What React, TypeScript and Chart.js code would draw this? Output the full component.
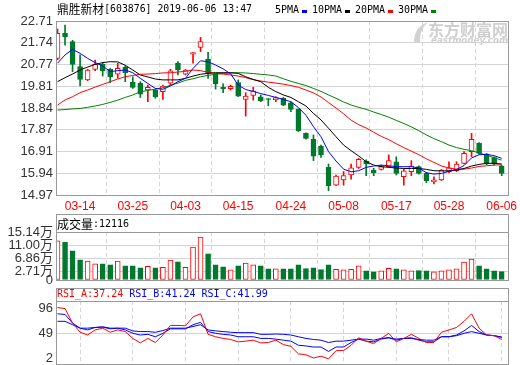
import React, { useEffect, useRef } from "react";
import { Chart, registerables } from "chart.js";

Chart.register(...registerables);

// ---------------- data ----------------
const dates = [
  "03-11", "03-12", "03-13", "03-14", "03-15", "03-18", "03-19", "03-20", "03-21", "03-22",
  "03-25", "03-26", "03-27", "03-28", "03-29", "04-01", "04-02", "04-03", "04-04", "04-08",
  "04-09", "04-10", "04-11", "04-12", "04-15", "04-16", "04-17", "04-18", "04-19", "04-22",
  "04-23", "04-24", "04-25", "04-26", "04-29", "04-30", "05-06", "05-07", "05-08", "05-09",
  "05-10", "05-13", "05-14", "05-15", "05-16", "05-17", "05-20", "05-21", "05-22", "05-23",
  "05-24", "05-27", "05-28", "05-29", "05-30", "05-31", "06-03", "06-04", "06-05", "06-06",
];
const tickDates = ["03-14", "03-25", "04-03", "04-15", "04-24", "05-08", "05-17", "05-28", "06-06"];

const openPrice = [
  21.05, 22.16, 21.79, 20.68, 20.09, 20.56, 20.78, 20.56, 20.34, 20.65,
  19.98, 19.94, 19.64, 19.64, 19.57, 19.94, 20.83, 20.35, 21.23, 21.54,
  21.02, 20.35, 19.76, 19.70, 19.97, 19.22, 19.40, 19.34, 19.24, 19.20,
  19.27, 19.07, 18.79, 17.71, 17.45, 17.15, 16.20, 15.41, 15.64, 15.86,
  16.20, 16.48, 16.08, 16.11, 16.23, 16.45, 15.78, 16.01, 16.23, 15.93,
  15.56, 15.64, 16.01, 16.05, 16.38, 16.90, 17.27, 16.79, 16.64, 16.26,
];
const highPrice = [
  22.35, 22.53, 21.85, 21.20, 20.56, 20.97, 20.86, 20.60, 20.83, 20.71,
  20.23, 20.01, 19.86, 19.67, 19.86, 20.56, 20.90, 20.56, 21.30, 21.98,
  21.32, 20.38, 19.91, 19.86, 20.09, 19.52, 19.76, 19.42, 19.25, 19.34,
  19.31, 19.12, 18.80, 17.74, 17.64, 17.19, 16.35, 15.86, 16.01, 16.35,
  16.60, 16.53, 16.16, 16.30, 16.75, 16.67, 16.11, 16.50, 16.27, 15.98,
  15.78, 16.11, 16.45, 16.45, 16.90, 17.71, 17.30, 16.82, 16.67, 16.30,
];
const lowPrice = [
  20.98, 21.64, 20.46, 19.82, 20.05, 20.50, 20.26, 19.97, 20.16, 20.01,
  19.71, 19.31, 19.12, 19.27, 19.22, 19.86, 20.31, 20.31, 20.83, 21.35,
  20.16, 19.68, 19.52, 19.64, 19.35, 18.48, 19.19, 19.12, 18.94, 19.12,
  18.94, 18.68, 17.79, 17.45, 16.50, 16.64, 15.16, 15.38, 15.41, 15.67,
  16.15, 15.83, 15.83, 16.08, 16.20, 15.86, 15.41, 15.83, 15.90, 15.52,
  15.46, 15.61, 15.96, 16.01, 16.35, 16.67, 16.79, 16.32, 16.30, 15.83,
];
const closePrice = [
  22.16, 22.00, 20.78, 20.11, 20.53, 20.78, 20.49, 20.23, 20.60, 20.41,
  19.76, 19.45, 19.76, 19.34, 19.82, 20.49, 20.53, 20.53, 21.30, 21.79,
  20.38, 19.91, 19.70, 19.80, 19.37, 19.37, 19.59, 19.15, 19.22, 19.30,
  18.97, 18.78, 17.83, 17.49, 16.70, 16.75, 15.38, 15.81, 15.83, 16.18,
  16.56, 16.35, 15.96, 16.23, 16.50, 15.93, 16.04, 16.26, 15.93, 15.61,
  15.64, 16.08, 16.18, 16.35, 16.82, 17.45, 16.82, 16.35, 16.35, 15.93,
];

const ma5 = [
  20.83, 21.20, 21.45, 21.27, 21.05, 20.86, 20.71, 20.46, 20.50, 20.53,
  20.41, 20.16, 19.93, 19.71, 19.67, 19.82, 20.01, 20.16, 20.60, 20.94,
  20.90, 20.75, 20.58, 20.36, 19.86, 19.66, 19.58, 19.48, 19.40, 19.31,
  19.22, 19.12, 18.86, 18.52, 18.01, 17.56, 16.90, 16.48, 16.12, 16.00,
  16.05, 16.20, 16.26, 16.30, 16.27, 16.23, 16.23, 16.23, 16.17, 15.96,
  15.90, 15.93, 16.02, 16.11, 16.28, 16.62, 16.76, 16.78, 16.72, 16.60,
];
const ma10 = [
  20.01, 20.19, 20.35, 20.53, 20.66, 20.78, 20.86, 20.90, 20.89, 20.74,
  20.53, 20.31, 20.22, 20.13, 20.09, 20.09, 20.09, 20.16, 20.26, 20.34,
  20.38, 20.41, 20.41, 20.41, 20.38, 20.23, 20.11, 20.01, 19.76, 19.57,
  19.42, 19.31, 19.12, 18.93, 18.60, 18.31, 17.94, 17.56, 17.19, 16.94,
  16.71, 16.45, 16.30, 16.23, 16.20, 16.17, 16.15, 16.15, 16.15, 16.11,
  16.05, 16.04, 16.05, 16.08, 16.15, 16.26, 16.33, 16.38, 16.38, 16.35,
];
const ma20 = [
  18.97, 19.20, 19.34, 19.52, 19.64, 19.77, 19.89, 20.01, 20.13, 20.23,
  20.29, 20.34, 20.35, 20.37, 20.40, 20.41, 20.44, 20.47, 20.53, 20.50,
  20.43, 20.38, 20.35, 20.31, 20.26, 20.19, 20.10, 20.04, 19.99, 19.95,
  19.90, 19.84, 19.76, 19.64, 19.51, 19.33, 19.08, 18.84, 18.58, 18.30,
  18.10, 17.95, 17.76, 17.58, 17.43, 17.25, 17.08, 16.92, 16.76, 16.58,
  16.42, 16.26, 16.17, 16.12, 16.12, 16.17, 16.24, 16.27, 16.30, 16.31,
];
const ma30 = [
  18.75, 18.77, 18.80, 18.82, 18.87, 18.93, 19.00, 19.09, 19.19, 19.31,
  19.42, 19.56, 19.62, 19.68, 19.74, 19.85, 19.95, 20.07, 20.14, 20.23,
  20.29, 20.34, 20.38, 20.40, 20.41, 20.40, 20.37, 20.34, 20.31, 20.26,
  20.14, 20.03, 19.93, 19.84, 19.71, 19.58, 19.42, 19.27, 19.11, 18.97,
  18.87, 18.78, 18.66, 18.55, 18.43, 18.29, 18.15, 18.00, 17.83, 17.64,
  17.48, 17.34, 17.19, 17.08, 17.00, 16.94, 16.84, 16.74, 16.63, 16.52,
];

// volume in 万
const volumeWan = [
  12.39, 11.86, 9.21, 6.35, 5.93, 5.08, 5.08, 4.77, 5.93, 4.45,
  4.45, 3.81, 4.34, 3.81, 4.02, 6.25, 5.72, 4.02, 10.38, 13.56,
  8.26, 4.77, 4.13, 3.18, 4.45, 5.30, 4.77, 4.45, 3.49, 3.49,
  3.49, 3.49, 4.77, 3.60, 3.81, 3.28, 4.77, 3.39, 3.18, 3.39,
  4.45, 2.86, 2.54, 2.86, 3.71, 3.49, 3.18, 2.86, 2.97, 2.86,
  2.54, 2.86, 3.18, 3.49, 5.68, 6.62, 4.47, 3.52, 2.93, 2.62,
];

const rsiA = [
  98, 96, 68.5, 51.0, 45.8, 55.5, 58.8, 51.0, 55.5, 52.3,
  39.3, 30.8, 39.3, 31.5, 45.8, 64.0, 64.0, 63.3, 80.2, 86.1,
  47.1, 42.5, 39.3, 37.3, 32.8, 34.1, 36.0, 30.8, 31.5, 36.0,
  27.6, 24.3, 10.0, 8.1, 2.2, 5.5, 0.5, 15.9, 16.5, 26.3,
  40.6, 34.1, 29.5, 39.3, 49.0, 32.8, 39.3, 47.1, 39.3, 31.5,
  31.5, 51.0, 55.5, 60.1, 71.8, 86.1, 58.8, 45.8, 44.5, 37.24,
];
const rsiB = [
  86.1, 84.8, 68.5, 58.8, 55.5, 60.1, 60.7, 57.5, 58.8, 55.5,
  49.0, 45.8, 47.1, 42.5, 49.0, 57.5, 57.5, 57.5, 65.3, 69.8,
  52.3, 49.0, 47.1, 45.8, 42.5, 42.5, 42.5, 39.3, 39.3, 38.0,
  36.0, 34.1, 26.3, 25.0, 23.0, 23.0, 14.6, 23.0, 23.0, 31.5,
  38.0, 34.1, 32.8, 38.0, 40.6, 36.0, 39.3, 40.6, 36.0, 32.8,
  32.8, 42.5, 42.5, 45.8, 53.6, 64.0, 52.3, 45.8, 44.5, 41.24,
];
const rsiC = [
  71.8, 71.8, 65.3, 58.8, 58.8, 60.1, 61.4, 58.8, 58.8, 58.8,
  53.6, 52.3, 52.3, 51.0, 54.2, 58.8, 58.8, 58.8, 62.0, 65.3,
  55.5, 53.6, 52.3, 51.0, 50.3, 50.3, 50.3, 47.1, 47.1, 47.7,
  47.1, 45.8, 42.5, 39.3, 37.3, 36.0, 31.5, 34.1, 34.1, 36.0,
  38.0, 38.0, 36.0, 39.3, 40.6, 38.0, 39.3, 39.3, 37.3, 36.0,
  36.0, 42.5, 42.5, 44.5, 49.0, 52.3, 49.0, 45.8, 44.5, 41.99,
];

const priceTicks = [22.71, 21.74, 20.77, 19.81, 18.84, 17.87, 16.91, 15.94, 14.97];
const volumeTicks = [15.14, 11.0, 6.86, 2.71, 0];
const rsiTicks = [96, 49, 2];

const titleText = "鼎胜新材[603876] 2019-06-06 13:47";
const volumeTitle = "成交量:12116";
const maNames = ["5PMA", "10PMA", "20PMA", "30PMA"];
const rsiNames = ["RSI_A:37.24", "RSI_B:41.24", "RSI_C:41.99"];
const watermarkCn = "东方财富网";
const watermarkEn = "eastmoney.com";

// ---------------- styles / layout ----------------
const RED = "#ff0000";
const GREEN = "#00782d";
const BLUE = "#0000ff";
const BLACK = "#000000";
const MA_GREEN = "#008000";
const FRAME = "#999999";
const GRID = "#d4d4d4";
const LABEL = "#333333";
const X_MIN = -0.2;
const X_MAX = 59.84;
const SANS = "'Liberation Sans', 'Noto Sans CJK SC', sans-serif";
const MONO = "'DejaVu Sans Mono', monospace";
const CJK = "'Noto Sans CJK SC', sans-serif";
const TITLE_X = 57;
const TITLE_W = 195;
const LEGEND_X = [275, 312, 355, 398];

const maColors = [BLUE, BLACK, RED, MA_GREEN];
const rsiColors = [RED, BLUE, BLUE];

const isUp = closePrice.map((c, i) => c >= openPrice[i]);
const tickIndex = tickDates.map((d) => dates.indexOf(d));

const CJK_RE = /[\u3000-\u9fff\uff00-\uffef]/;
function segments(text: string) {
  const out: { s: string; c: boolean }[] = [];
  let i = 0;
  while (i < text.length) {
    const c = CJK_RE.test(text[i]);
    let j = i;
    while (j < text.length && CJK_RE.test(text[j]) === c) j++;
    out.push({ s: text.slice(i, j), c });
    i = j;
  }
  return out;
}
function drawMixed(ctx: CanvasRenderingContext2D, text: string, x: number, y: number, color: string, fitWidth?: number) {
  ctx.save();
  ctx.fillStyle = color;
  ctx.textBaseline = "middle";
  ctx.textAlign = "left";
  const segs = segments(text);
  let total = 0;
  for (const g of segs) {
    ctx.font = g.c ? `12px ${CJK}` : `10px ${MONO}`;
    total += ctx.measureText(g.s).width;
  }
  const k = fitWidth ? fitWidth / total : 1;
  ctx.translate(x, y);
  ctx.scale(k, 1);
  let cx = 0;
  for (const g of segs) {
    ctx.font = g.c ? `12px ${CJK}` : `10px ${MONO}`;
    ctx.fillText(g.s, cx, 0);
    cx += ctx.measureText(g.s).width;
  }
  ctx.restore();
}

function strokeFrame(ctx: CanvasRenderingContext2D, l: number, t: number, r: number, b: number) {
  ctx.save();
  ctx.strokeStyle = FRAME;
  ctx.lineWidth = 1;
  const L = Math.round(l), T = Math.round(t), R = Math.round(r), B = Math.round(b);
  ctx.strokeRect(L + 0.5, T + 0.5, R - L, B - T);
  ctx.restore();
}
function hLine(ctx: CanvasRenderingContext2D, l: number, r: number, y: number) {
  ctx.save();
  ctx.strokeStyle = FRAME;
  ctx.lineWidth = 1;
  ctx.beginPath();
  ctx.moveTo(Math.round(l), Math.round(y) + 0.5);
  ctx.lineTo(Math.round(r) + 1, Math.round(y) + 0.5);
  ctx.stroke();
  ctx.restore();
}

function xScale(showLabels: boolean) {
  return {
    type: "linear",
    min: X_MIN,
    max: X_MAX,
    offset: false,
    afterBuildTicks: (s: any) => {
      s.ticks = tickIndex.map((v) => ({ value: v }));
    },
    ticks: {
      display: showLabels,
      autoSkip: false,
      maxRotation: 0,
      minRotation: 0,
      color: RED,
      font: { family: SANS, size: 12 },
      padding: 4,
      callback: (v: any) => dates[v] ?? "",
    },
    grid: { color: GRID, lineWidth: 1, drawTicks: false },
    border: { display: false, dash: [4, 3] },
    afterFit: (s: any) => {
      s.height = showLabels ? 17 : 0;
      s.paddingLeft = 0;
      s.paddingRight = 0;
    },
  };
}

function yScale(min: number, max: number, ticks: number[], fmt: (v: number) => string, gridColor: any) {
  return {
    type: "linear",
    min,
    max,
    afterBuildTicks: (s: any) => {
      s.ticks = ticks.map((v) => ({ value: v }));
    },
    ticks: {
      autoSkip: false,
      color: LABEL,
      font: { family: SANS, size: 13 },
      padding: 3,
      callback: (v: any) => fmt(Number(v)),
    },
    grid: { color: gridColor, drawTicks: false, lineWidth: 1 },
    border: { display: false },
    afterFit: (s: any) => {
      s.width = 48;
      s.paddingTop = 0;
      s.paddingBottom = 0;
    },
  };
}

const common = {
  animation: false,
  responsive: false,
  maintainAspectRatio: false,
  events: [] as any[],
  plugins: { legend: { display: false }, tooltip: { enabled: false } },
};

function priceConfig(): any {
  const lines = [ma5, ma10, ma20, ma30].map((arr, k) => ({
    type: "line",
    data: arr.map((v, i) => ({ x: i, y: v })),
    borderColor: maColors[k],
    borderWidth: 1,
    pointRadius: 0,
    tension: 0,
    order: 0,
  }));
  const body = {
    type: "bar",
    data: closePrice.map((c, i) => ({ x: i, y: [openPrice[i], c] })),
    backgroundColor: isUp.map((u) => (u ? "#ffffff" : GREEN)),
    borderColor: isUp.map((u) => (u ? RED : GREEN)),
    borderWidth: 1,
    borderSkipped: false,
    barThickness: 5,
    minBarLength: 1,
    grouped: false,
    order: 1,
  };
  const wick = {
    type: "bar",
    data: highPrice.map((h, i) => ({ x: i, y: [lowPrice[i], h] })),
    backgroundColor: isUp.map((u) => (u ? RED : GREEN)),
    borderWidth: 0,
    barThickness: 1,
    grouped: false,
    order: 2,
  };
  const decor = {
    id: "priceDecor",
    beforeDatasetsDraw(chart: any) {
      const ctx: CanvasRenderingContext2D = chart.ctx;
      ctx.save();
      ctx.textAlign = "left";
      ctx.fillStyle = "#d2d2d2";
      ctx.beginPath();
      ctx.moveTo(414, 42);
      ctx.quadraticCurveTo(414, 27, 428, 22);
      ctx.quadraticCurveTo(419, 30, 420, 42);
      ctx.closePath();
      ctx.fill();
      ctx.font = `bold 16px ${CJK}`;
      ctx.textBaseline = "middle";
      ctx.fillStyle = "#cfcfcf";
      ctx.fillText(watermarkCn, 428, 30, 80);
      ctx.font = `bold italic 9px 'DejaVu Sans', sans-serif`;
      ctx.fillText(watermarkEn, 431, 41, 77);
      ctx.restore();
    },
    afterDraw(chart: any) {
      const ctx: CanvasRenderingContext2D = chart.ctx;
      const a = chart.chartArea;
      strokeFrame(ctx, a.left, a.top, a.right, a.bottom);
      drawMixed(ctx, titleText, TITLE_X, 9, BLACK, TITLE_W);
      ctx.save();
      ctx.font = `10px ${MONO}`;
      ctx.textBaseline = "middle";
      ctx.textAlign = "left";
      maNames.forEach((n, k) => {
        const x = LEGEND_X[k];
        ctx.fillStyle = BLACK;
        ctx.fillText(n, x, 10);
        const w = ctx.measureText(n).width;
        ctx.fillStyle = maColors[k];
        ctx.fillRect(Math.round(x + w + 3), 10, 5, 3);
      });
      ctx.restore();
    },
  };
  return {
    type: "bar",
    data: { datasets: [...lines, body, wick] },
    options: {
      ...common,
      layout: { padding: { left: 8, right: 12, top: 21, bottom: 0 } },
      scales: {
        x: xScale(true),
        y: yScale(14.97, 22.71, priceTicks, (v) => v.toFixed(2), GRID),
      },
    },
    plugins: [decor],
  };
}

function volumeConfig(): any {
  const decor = {
    id: "volDecor",
    afterDraw(chart: any) {
      const ctx: CanvasRenderingContext2D = chart.ctx;
      const a = chart.chartArea;
      strokeFrame(ctx, a.left, 2, a.right, a.bottom);
      hLine(ctx, a.left, a.right, a.top);
      drawMixed(ctx, volumeTitle, 57, 12, BLACK);
    },
  };
  return {
    type: "bar",
    data: {
      datasets: [
        {
          data: volumeWan.map((v, i) => ({ x: i, y: v })),
          backgroundColor: isUp.map((u) => (u ? "#ffffff" : GREEN)),
          borderColor: isUp.map((u) => (u ? RED : GREEN)),
          borderWidth: 1,
          borderSkipped: false,
          barThickness: 5,
          grouped: false,
        },
      ],
    },
    options: {
      ...common,
      layout: { padding: { left: 8, right: 12, top: 20, bottom: 4 } },
      scales: {
        x: xScale(false),
        y: yScale(0, 15.14, volumeTicks, (v) => (v === 0 ? "0" : v.toFixed(2) + "万"), GRID),
      },
    },
    plugins: [decor],
  };
}

function rsiConfig(): any {
  const decor = {
    id: "rsiDecor",
    afterDraw(chart: any) {
      const ctx: CanvasRenderingContext2D = chart.ctx;
      const a = chart.chartArea;
      strokeFrame(ctx, a.left, 3, a.right, a.bottom);
      hLine(ctx, a.left, a.right, a.top);
      ctx.save();
      ctx.font = `10px ${MONO}`;
      ctx.textBaseline = "middle";
      ctx.textAlign = "left";
      let x = 57;
      rsiNames.forEach((n, k) => {
        ctx.fillStyle = rsiColors[k];
        ctx.fillText(n, x, 9);
        x += ctx.measureText(n + " ").width;
      });
      ctx.restore();
    },
  };
  return {
    type: "line",
    data: {
      datasets: [rsiA, rsiB, rsiC].map((arr, k) => ({
        data: arr.map((v, i) => ({ x: i, y: v })),
        borderColor: rsiColors[k],
        borderWidth: 1,
        pointRadius: 0,
        tension: 0,
      })),
    },
    options: {
      ...common,
      layout: { padding: { left: 8, right: 12, top: 16, bottom: 1 } },
      scales: {
        x: xScale(false),
        y: yScale(-9.3, 110.4, rsiTicks, (v) => String(v), (c: any) =>
          c.tick && c.tick.value === 49 ? GRID : "rgba(0,0,0,0)"
        ),
      },
    },
    plugins: [decor],
  };
}

export default function App() {
  const priceRef = useRef<HTMLCanvasElement>(null);
  const volRef = useRef<HTMLCanvasElement>(null);
  const rsiRef = useRef<HTMLCanvasElement>(null);

  useEffect(() => {
    const charts = [
      new Chart(priceRef.current as HTMLCanvasElement, priceConfig()),
      new Chart(volRef.current as HTMLCanvasElement, volumeConfig()),
      new Chart(rsiRef.current as HTMLCanvasElement, rsiConfig()),
    ];
    return () => charts.forEach((c) => c.destroy());
  }, []);

  return (
    <div style={{ position: "absolute", left: 0, top: 0, width: 520, height: 365, background: "#ffffff" }}>
      <canvas ref={priceRef} width={520} height={212} style={{ position: "absolute", left: 0, top: 0, width: 520, height: 212 }} />
      <canvas ref={volRef} width={520} height={72} style={{ position: "absolute", left: 0, top: 212, width: 520, height: 72 }} />
      <canvas ref={rsiRef} width={520} height={80} style={{ position: "absolute", left: 0, top: 285, width: 520, height: 80 }} />
    </div>
  );
}
